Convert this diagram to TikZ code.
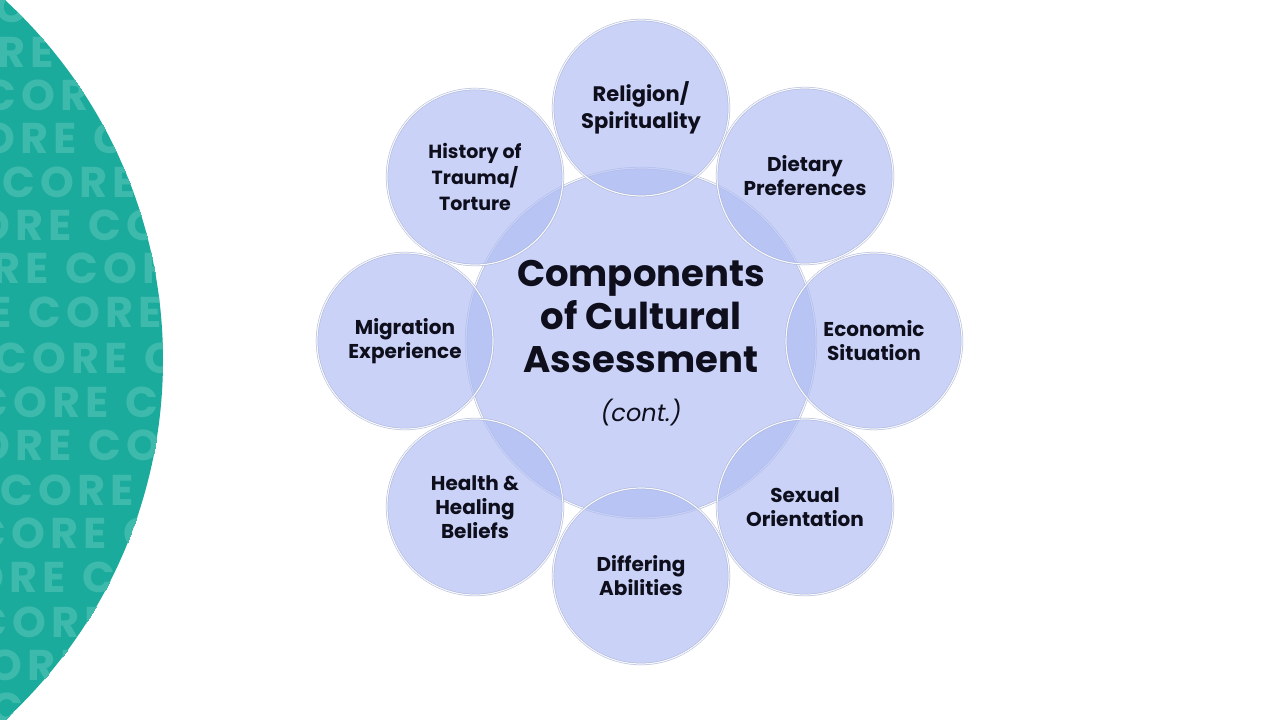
\documentclass[tikz,border=0pt]{standalone}
\usepackage{fontspec}
\setmainfont{Poppins}
\usepackage{xcolor}
\usepackage{tikz}
\usetikzlibrary{positioning}
\definecolor{tealbg}{RGB}{27,171,156}
\definecolor{tealword}{RGB}{62,186,172}
\definecolor{bubblefill}{RGB}{176,189,243}
\definecolor{bubbleedge}{RGB}{165,175,212}
\definecolor{ink}{RGB}{14,14,28}

\begin{document}
\begin{tikzpicture}[
 x=1pt,y=-1pt,
 bubble/.style={circle,minimum size=176pt,inner sep=0pt,align=center,
                fill=bubblefill,fill opacity=0.66,text opacity=1,
                draw=bubbleedge,draw opacity=0.9,line width=0.5pt,
                double=white,double distance=1.2pt,
                text=ink,font=\bfseries\fontsize{20}{24}\selectfont},
 hub/.style={bubble,minimum size=350pt,
             font=\bfseries\fontsize{37}{43}\selectfont},
 word/.style={anchor=base west,inner sep=0pt,text=tealword,
              font=\bfseries\fontsize{43}{43}\selectfont
                   \addfontfeatures{LetterSpace=12}}]
\useasboundingbox (0,0) rectangle (1280,720);
\fill[white] (0,0) rectangle (1280,720);
\begin{scope}
 \clip (-326,360) circle[radius=489pt];
 \fill[tealbg] (0,0) rectangle (170,720);
 \foreach \base/\dx in {23/-5,67/-80,110/-17,153/-57,197/2,240/-62,283/-85,
   327/-122,373/-6,417/-25,460/-62,505/0,548/-27,592/-68,637/-26,680/-50,723/-10}
  \foreach \k in {-1,0,1,2}
   \node[word] at (\dx+150*\k,\base) {CORE};
\end{scope}
\node[hub] (hub) at (641,343) {Components\\of Cultural\\Assessment\\[6pt]
 {\mdseries\itshape\fontsize{24}{24}\selectfont(cont.)}};
\node[bubble,font=\bfseries\fontsize{21}{27}\selectfont] (religion) at (641,108)
 {Religion/\\Spirituality};
\node[bubble] (dietary) at (805,176) {Dietary\\Preferences};
\node[bubble] (economic) at (874,341) {Economic\\Situation};
\node[bubble] (sexual) at (805,507) {Sexual\\Orientation};
\node[bubble] (abilities) at (641,576) {Differing\\Abilities};
\node[bubble] (health) at (475,507) {Health \&\\Healing\\Beliefs};
\node[bubble] (migration) at (405,341) {Migration\\Experience};
\node[bubble,font=\bfseries\fontsize{19}{26}\selectfont] (history) at (475,177)
 {History of\\Trauma/\\Torture};
\end{tikzpicture}
\end{document}
